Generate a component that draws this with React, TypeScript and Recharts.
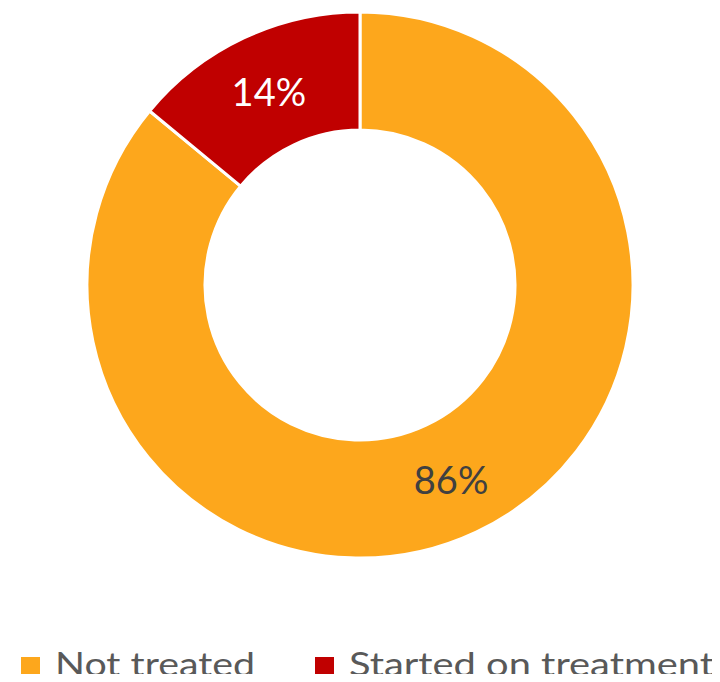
import React from "react";
import { PieChart, Pie, Cell, Legend } from "recharts";

const categories = ["Not treated", "Started on treatment"];
const values = [86, 14];
const colors = ["#FDA71C", "#C00000"];
const labelColors = ["#404040", "#FFFFFF"];
const legendX = [21, 315];
const legendTextLen = [200, 365];

const data = categories.map((name, i) => ({ name, value: values[i] }));

const RAD = Math.PI / 180;

const renderLabel = (props: any) => {
  const { cx, cy, midAngle, innerRadius, outerRadius, index } = props;
  const r = (innerRadius + outerRadius) / 2;
  const x = cx + r * Math.cos(-midAngle * RAD);
  const y = cy + r * Math.sin(-midAngle * RAD);
  return (
    <text
      x={x}
      y={y}
      fill={labelColors[index]}
      textAnchor="middle"
      dominantBaseline="central"
      fontFamily="Lato"
      fontSize={38}
    >
      {`${values[index]}%`}
    </text>
  );
};

const renderLegend = () => (
  <svg width={720} height={42} style={{ display: "block", overflow: "visible" }}>
    {categories.map((c, i) => (
      <g key={c}>
        <rect x={legendX[i]} y={17} width={19} height={19} fill={colors[i]} />
        <text
          x={legendX[i] + 34}
          y={36}
          fontFamily="Lato"
          fontSize={33}
          fill="#595959"
          textLength={legendTextLen[i]}
          lengthAdjust="spacingAndGlyphs"
        >
          {c}
        </text>
      </g>
    ))}
  </svg>
);

export default function App() {
  return (
    <div style={{ margin: -8, width: 720, height: 682, overflow: "hidden", background: "#fff" }}>
      <PieChart width={720} height={682} margin={{ top: 0, right: 0, bottom: 0, left: 0 }}>
        <Pie
          data={data}
          dataKey="value"
          nameKey="name"
          cx={360}
          cy={285}
          innerRadius={155}
          outerRadius={273}
          startAngle={90}
          endAngle={-270}
          stroke="#FFFFFF"
          strokeWidth={3}
          label={renderLabel}
          labelLine={false}
          isAnimationActive={false}
        >
          {data.map((d, i) => (
            <Cell key={d.name} fill={colors[i]} />
          ))}
        </Pie>
        <Legend
          content={renderLegend}
          wrapperStyle={{ position: "absolute", left: 0, top: 640, width: 720, height: 42 }}
        />
      </PieChart>
    </div>
  );
}
